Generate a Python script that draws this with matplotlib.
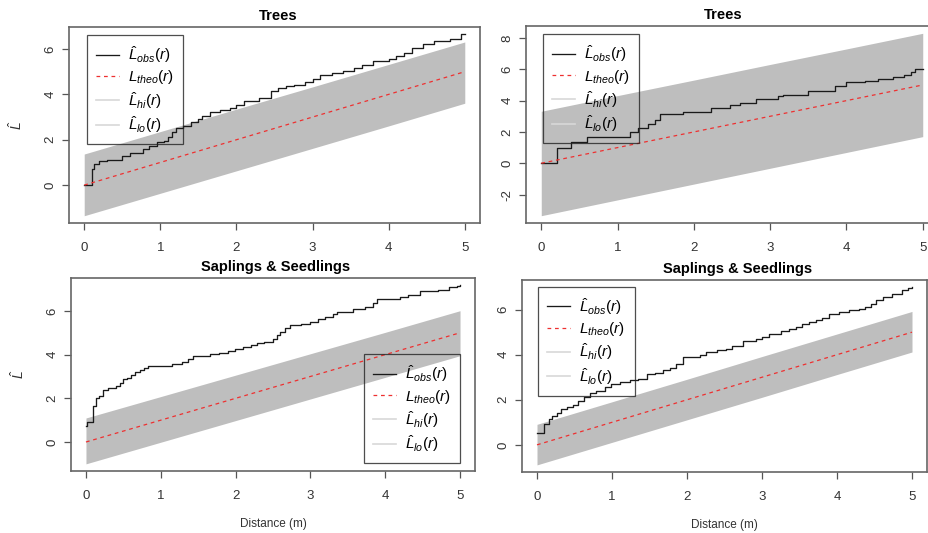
import numpy as np
import matplotlib
matplotlib.use("Agg")
import matplotlib.pyplot as plt

plt.rcParams['font.family'] = ['Liberation Sans', 'DejaVu Sans']
plt.rcParams['mathtext.fontset'] = 'custom'
plt.rcParams['mathtext.rm'] = 'Liberation Sans'
plt.rcParams['mathtext.it'] = 'Liberation Sans:italic'
plt.rcParams['axes.unicode_minus'] = False

# distances where the envelopes are evaluated
env_r = [0, 1, 2, 3, 4, 5]

# Trees, plot A
trees_a_r = [0, 0.1, 0.13, 0.2, 0.3, 0.5, 0.6, 0.77, 0.85, 0.95, 1.05, 1.1, 1.15, 1.2,
             1.3, 1.4, 1.5, 1.55, 1.65, 1.78, 1.91, 2.0, 2.1, 2.3, 2.45, 2.55, 2.65,
             2.75, 2.9, 3.0, 3.1, 3.25, 3.4, 3.55, 3.65, 3.8, 4.0, 4.1, 4.2, 4.31,
             4.45, 4.6, 4.8, 4.95, 5.0]
trees_a_obs = [0, 0.7, 0.93, 1.05, 1.12, 1.29, 1.42, 1.6, 1.73, 1.88, 1.96, 2.1, 2.32,
               2.5, 2.6, 2.77, 2.9, 3.05, 3.22, 3.3, 3.4, 3.52, 3.7, 3.86, 4.15, 4.26,
               4.35, 4.42, 4.55, 4.67, 4.85, 4.96, 5.04, 5.18, 5.3, 5.45, 5.55, 5.7,
               5.84, 6.05, 6.2, 6.36, 6.46, 6.65, 6.65]
trees_a_hi = [1.37, 2.36, 3.35, 4.33, 5.32, 6.31]
trees_a_lo = [-1.35, -0.36, 0.63, 1.62, 2.61, 3.61]

# Trees, plot B
trees_b_r = [0, 0.2, 0.39, 0.6, 1.16, 1.27, 1.4, 1.49, 1.56, 1.86, 2.23, 2.47, 2.6,
             2.82, 3.1, 3.17, 3.49, 3.85, 4.0, 4.24, 4.41, 4.61, 4.76, 4.85, 4.9, 5.0]
trees_b_obs = [0, 1.0, 1.38, 1.68, 2.01, 2.27, 2.5, 2.78, 3.15, 3.3, 3.56, 3.75, 3.84,
               4.1, 4.27, 4.34, 4.6, 4.91, 5.16, 5.27, 5.38, 5.54, 5.65, 5.8, 6.0, 6.0]
trees_b_hi = [3.32, 4.32, 5.31, 6.31, 7.3, 8.3]
trees_b_lo = [-3.35, -2.34, -1.33, -0.32, 0.69, 1.7]

# Saplings & seedlings, plot A
sap_a_r = [0, 0.02, 0.1, 0.13, 0.18, 0.23, 0.3, 0.4, 0.45, 0.5, 0.55, 0.6, 0.66, 0.72,
           0.78, 0.83, 1.15, 1.28, 1.37, 1.43, 1.66, 1.78, 1.9, 1.99, 2.1, 2.2, 2.28,
           2.38, 2.5, 2.55, 2.6, 2.66, 2.73, 2.88, 2.99, 3.1, 3.2, 3.3, 3.35, 3.57,
           3.73, 3.84, 3.89, 4.2, 4.31, 4.47, 4.7, 4.85, 4.96, 5.0]
sap_a_obs = [0.75, 0.93, 1.66, 2.0, 2.1, 2.38, 2.45, 2.55, 2.72, 2.87, 2.95, 3.08, 3.2,
             3.3, 3.4, 3.48, 3.55, 3.67, 3.8, 3.95, 4.02, 4.08, 4.17, 4.24, 4.33, 4.42,
             4.52, 4.6, 4.72, 4.9, 5.05, 5.2, 5.36, 5.42, 5.51, 5.62, 5.74, 5.85, 5.97,
             6.08, 6.2, 6.38, 6.55, 6.62, 6.73, 6.93, 6.98, 7.08, 7.15, 7.18]
sap_a_hi = [1.1, 2.08, 3.06, 4.04, 5.02, 6.01]
sap_a_lo = [-1.0, -0.01, 0.98, 1.97, 2.96, 3.95]

# Saplings & seedlings, plot B
sap_b_r = [0, 0.09, 0.16, 0.2, 0.26, 0.32, 0.4, 0.48, 0.55, 0.62, 0.7, 0.79, 0.9, 0.99,
           1.1, 1.24, 1.35, 1.46, 1.57, 1.68, 1.77, 1.85, 1.95, 2.17, 2.26, 2.4, 2.52,
           2.6, 2.74, 2.92, 3.0, 3.1, 3.25, 3.36, 3.45, 3.54, 3.63, 3.72, 3.8, 3.9,
           4.03, 4.16, 4.3, 4.38, 4.45, 4.52, 4.62, 4.74, 4.87, 4.95, 5.0]
sap_b_obs = [0.54, 0.91, 1.15, 1.27, 1.4, 1.61, 1.67, 1.75, 1.95, 2.12, 2.28, 2.4, 2.58,
             2.71, 2.8, 2.88, 2.9, 3.13, 3.18, 3.3, 3.4, 3.6, 3.9, 3.98, 4.12, 4.2, 4.27,
             4.4, 4.62, 4.71, 4.8, 4.9, 5.05, 5.15, 5.25, 5.37, 5.45, 5.54, 5.65, 5.8,
             5.9, 5.98, 6.05, 6.1, 6.25, 6.42, 6.55, 6.68, 6.86, 6.95, 7.0]
sap_b_hi = [0.91, 1.91, 2.91, 3.92, 4.92, 5.92]
sap_b_lo = [-0.89, 0.11, 1.11, 2.11, 3.12, 4.12]

W, H = 929, 533


def px_axes(fig, left, top, right, bottom):
    return fig.add_axes([left / W, 1 - bottom / H, (right - left) / W, (bottom - top) / H])


def draw_panel(ax, r, obs, hi, lo, title, title_x, yticks, leg_loc, leg_anchor,
               ylabel=False, xlabel=False):
    ax.fill_between(env_r, lo, hi, color='#bebebe', lw=0)
    ax.plot(r, obs, color='#1a1a1a', lw=0.95, drawstyle='steps-post',
            label=r'$\hat{L}_{obs}(r)$')
    ax.plot(env_r, env_r, color='#ee3030', lw=0.9, dashes=(3, 3),
            label=r'$L_{theo}(r)$')
    ax.plot([], [], color='#d8d8d8', lw=1.2, label=r'$\hat{L}_{hi}(r)$')
    ax.plot([], [], color='#d8d8d8', lw=1.2, label=r'$\hat{L}_{lo}(r)$')

    # R style limits: data range plus 4% on each side
    allv = np.concatenate([obs, hi, lo, env_r])
    lo_v, hi_v = allv.min(), allv.max()
    pad = 0.04 * (hi_v - lo_v)
    ax.set_ylim(lo_v - pad, hi_v + pad)
    ax.set_xlim(-0.2, 5.2)

    ax.set_xticks(range(6))
    ax.set_yticks(yticks)
    ax.tick_params(axis='both', direction='out', length=5, width=0.9, color='#555555',
                   labelsize=9.5, labelcolor='#333333')
    ax.tick_params(axis='x', pad=9)
    ax.tick_params(axis='y', pad=4)
    for lab in ax.get_yticklabels():
        lab.set_rotation(90)
        lab.set_va('center')
    for s in ax.spines.values():
        s.set_color('#666666')
        s.set_linewidth(1.2)

    ax.set_title(title, fontsize=10.5, fontweight='bold', x=title_x, pad=5)
    if ylabel:
        ax.set_ylabel(r'$\hat{L}$', fontsize=10, color='#333333', labelpad=14)
    if xlabel:
        ax.set_xlabel('Distance (m)', fontsize=8.5, color='#333333', labelpad=11)

    leg = ax.legend(loc=leg_loc, bbox_to_anchor=leg_anchor, fontsize=11, frameon=True,
                    fancybox=False, facecolor='none', edgecolor='#222222',
                    handlelength=1.5, handletextpad=0.6, labelspacing=0.22,
                    borderpad=0.6, borderaxespad=0)
    leg.get_frame().set_linewidth(0.9)


fig = plt.figure(figsize=(W / 100, H / 100), dpi=100)

ax1 = px_axes(fig, 69, 27, 480, 223)
draw_panel(ax1, trees_a_r, trees_a_obs, trees_a_hi, trees_a_lo, 'Trees', 0.508,
           [0, 2, 4, 6], 'upper left', (0.043, 0.959), ylabel=True)

ax2 = px_axes(fig, 526, 26, 938, 223)
draw_panel(ax2, trees_b_r, trees_b_obs, trees_b_hi, trees_b_lo, 'Trees', 0.478,
           [-2, 0, 2, 4, 6, 8], 'upper left', (0.041, 0.959))

ax3 = px_axes(fig, 71, 278, 475, 471)
draw_panel(ax3, sap_a_r, sap_a_obs, sap_a_hi, sap_a_lo, 'Saplings & Seedlings', 0.507,
           [0, 2, 4, 6], 'lower right', (0.963, 0.04), ylabel=True, xlabel=True)

ax4 = px_axes(fig, 522, 280, 927, 472)
draw_panel(ax4, sap_b_r, sap_b_obs, sap_b_hi, sap_b_lo, 'Saplings & Seedlings', 0.533,
           [0, 2, 4, 6], 'upper left', (0.04, 0.965), xlabel=True)

fig.savefig('out.png', dpi=100)
